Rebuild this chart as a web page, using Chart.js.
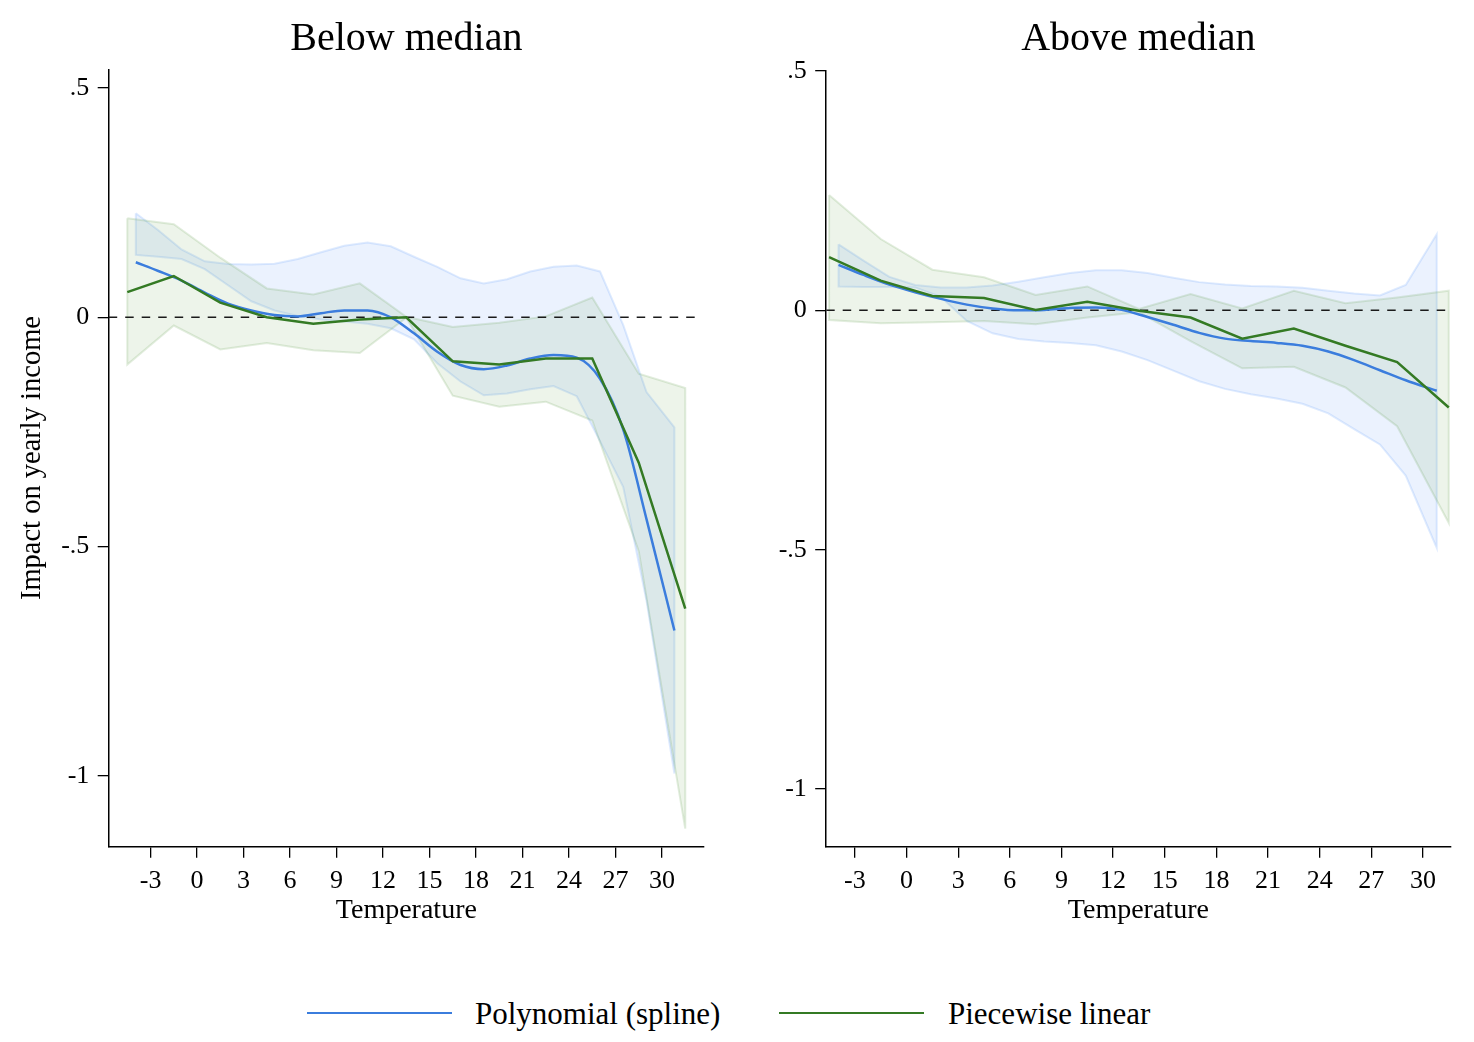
<!DOCTYPE html>
<html>
<head>
<meta charset="utf-8">
<script src="https://cdn.jsdelivr.net/npm/chart.js@4.4.0/dist/chart.umd.min.js"></script>
<style>
html,body{margin:0;padding:0;background:#fff;}
#wrap{position:relative;width:1474px;height:1042px;overflow:hidden;background:#fff;font-family:'Liberation Serif','Times New Roman',serif;color:#000;}
canvas{position:absolute;top:0;}
.lg-line{position:absolute;height:2.5px;}
.lg-text{position:absolute;font-size:31px;line-height:36px;white-space:nowrap;}
</style>
</head>
<body>
<div id="wrap">
  <canvas id="cL" width="737" height="960" style="left:0px"></canvas>
  <canvas id="cR" width="737" height="960" style="left:737px"></canvas>
  <div class="lg-line" style="left:307px;top:1011.5px;width:145px;background:#3b7ddd"></div>
  <div class="lg-text" style="left:475px;top:996px">Polynomial (spline)</div>
  <div class="lg-line" style="left:779px;top:1011.5px;width:145px;background:#347a24"></div>
  <div class="lg-text" style="left:948px;top:996px">Piecewise linear</div>
</div>
<script>
// ---------- data ----------
const xTickValues = [-3, 0, 3, 6, 9, 12, 15, 18, 21, 24, 27, 30];
const xTickLabels = ['-3','0','3','6','9','12','15','18','21','24','27','30'];
const yTickValues = [-1, -0.5, 0, 0.5];
const yTickLabels = ['-1', '-.5', '0', '.5'];

// piecewise linear (3-degree bins)
const greenBins = [-4.5, -1.5, 1.5, 4.5, 7.5, 10.5, 13.5, 16.5, 19.5, 22.5, 25.5, 28.5, 31.5];
// spline evaluation points
const splineGrid = [-3.95, -2.5, -1, 0.5, 2, 3.5, 5, 6.5, 8, 9.5, 11, 12.5, 14, 15.5, 17, 18.5, 20, 21.5, 23, 24.5, 26, 27.5, 29, 30.8];

// Below median
const belowSpline   = [0.120, 0.101, 0.080, 0.054, 0.030, 0.015, 0.005, 0.002, 0.009, 0.015, 0.015, 0.000, -0.035, -0.075, -0.104, -0.113, -0.105, -0.090, -0.082, -0.088, -0.134, -0.245, -0.440, -0.683];
const belowSplineHi = [0.227, 0.190, 0.148, 0.122, 0.116, 0.115, 0.117, 0.127, 0.142, 0.156, 0.163, 0.155, 0.132, 0.110, 0.085, 0.074, 0.083, 0.100, 0.110, 0.113, 0.100, -0.017, -0.163, -0.240];
const belowSplineLo = [0.136, 0.132, 0.127, 0.105, 0.070, 0.035, 0.015, 0.003, -0.005, -0.009, -0.014, -0.024, -0.048, -0.100, -0.140, -0.170, -0.166, -0.157, -0.150, -0.172, -0.270, -0.370, -0.618, -0.995];
const belowLinear   = [0.055, 0.090, 0.032, 0.000, -0.014, -0.005, 0.000, -0.096, -0.103, -0.090, -0.090, -0.317, -0.635];
const belowLinearHi = [0.216, 0.203, 0.130, 0.063, 0.050, 0.074, 0.001, -0.021, -0.012, 0.002, 0.043, -0.123, -0.154];
const belowLinearLo = [-0.103, -0.018, -0.070, -0.056, -0.072, -0.078, -0.001, -0.171, -0.195, -0.184, -0.225, -0.510, -1.115];

// Above median
const aboveSpline   = [0.095, 0.074, 0.054, 0.038, 0.024, 0.012, 0.004, 0.000, 0.001, 0.005, 0.006, 0.001, -0.014, -0.030, -0.047, -0.059, -0.064, -0.068, -0.074, -0.086, -0.104, -0.125, -0.146, -0.168];
const aboveSplineHi = [0.138, 0.104, 0.070, 0.053, 0.048, 0.048, 0.052, 0.060, 0.069, 0.078, 0.084, 0.084, 0.078, 0.068, 0.059, 0.054, 0.051, 0.050, 0.047, 0.041, 0.035, 0.031, 0.053, 0.159];
const aboveSplineLo = [0.050, 0.049, 0.049, 0.048, 0.028, -0.022, -0.048, -0.060, -0.065, -0.068, -0.073, -0.086, -0.104, -0.126, -0.148, -0.164, -0.175, -0.184, -0.195, -0.215, -0.248, -0.280, -0.345, -0.496];
const aboveLinear   = [0.111, 0.062, 0.030, 0.026, 0.001, 0.018, -0.001, -0.015, -0.059, -0.038, -0.074, -0.108, -0.203];
const aboveLinearHi = [0.241, 0.149, 0.085, 0.069, 0.032, 0.050, 0.003, 0.034, 0.004, 0.041, 0.015, 0.027, 0.041];
const aboveLinearLo = [-0.020, -0.027, -0.025, -0.022, -0.029, -0.015, -0.004, -0.064, -0.121, -0.118, -0.161, -0.242, -0.444];

// ---------- helpers ----------
const SERIF = "'Liberation Serif', 'Times New Roman', serif";
Chart.defaults.font.family = SERIF;
Chart.defaults.color = '#000';

function pts(xs, ys) { return xs.map((x, i) => ({x: x, y: ys[i]})); }
function band(xs, lo, hi) {
  const p = pts(xs, hi);
  for (let i = xs.length - 1; i >= 0; i--) p.push({x: xs[i], y: lo[i]});
  p.push({x: xs[0], y: hi[0]});
  return p;
}

function makeChart(id, c) {
  const datasets = [
    { data: band(splineGrid, c.sLo, c.sHi), fill: 'shape', backgroundColor: 'rgba(59,130,246,0.10)',
      borderColor: 'rgba(59,130,246,0.16)', borderWidth: 2, pointRadius: 0, tension: 0, order: 5 },
    { data: band(greenBins, c.gLo, c.gHi), fill: 'shape', backgroundColor: 'rgba(76,145,50,0.10)',
      borderColor: 'rgba(76,145,50,0.16)', borderWidth: 2, pointRadius: 0, tension: 0, order: 4 },
    { data: [{x: c.xMin, y: 0}, {x: c.zeroEnd, y: 0}], borderColor: '#1a1a1a', borderWidth: 1.5,
      borderDash: [8.5, 8], pointRadius: 0, fill: false, order: 3 },
    { data: pts(splineGrid, c.s), borderColor: '#3b7ddd', borderWidth: 2.5, pointRadius: 0,
      fill: false, cubicInterpolationMode: 'monotone', order: 2 },
    { data: pts(greenBins, c.g), borderColor: '#347a24', borderWidth: 2.5, pointRadius: 0,
      fill: false, tension: 0, order: 1 }
  ];
  return new Chart(document.getElementById(id), {
    type: 'line',
    data: { datasets: datasets },
    options: {
      responsive: false,
      animation: false,
      events: [],
      layout: { padding: c.pad },
      plugins: {
        legend: { display: false },
        tooltip: { enabled: false },
        title: { display: true, text: c.title, fullSize: false, color: '#000',
                 font: { size: 40, family: SERIF, weight: 'normal' },
                 padding: { top: 15.5, bottom: c.titleBottom } }
      },
      scales: {
        x: {
          type: 'linear', position: 'bottom', min: c.xMin, max: c.xMax,
          afterBuildTicks: s => { s.ticks = xTickValues.map(v => ({value: v})); },
          afterFit: s => { s.height = 81; },
          ticks: { autoSkip: false, maxRotation: 0, minRotation: 0, padding: 7.5, color: '#000',
                   font: { size: 26 }, callback: v => xTickLabels[xTickValues.indexOf(v)] },
          grid: { drawOnChartArea: false, drawTicks: true, tickLength: 11, color: '#000', lineWidth: 1.3 },
          border: { display: true, color: '#000', width: 1.5 },
          title: { display: true, text: 'Temperature', color: '#000', font: { size: 28 }, padding: { top: 0, bottom: 0 } }
        },
        y: {
          type: 'linear', position: 'left', min: c.yMin, max: c.yMax,
          afterBuildTicks: s => { s.ticks = yTickValues.map(v => ({value: v})); },
          afterFit: s => { s.width = c.yWidth; },
          ticks: { autoSkip: false, padding: 8.4, color: '#000', font: { size: 26 },
                   callback: v => yTickLabels[yTickValues.indexOf(v)] },
          grid: { drawOnChartArea: false, drawTicks: true, tickLength: 11, color: '#000', lineWidth: 1.3 },
          border: { display: true, color: '#000', width: 1.5 },
          title: { display: c.yTitle !== '', text: c.yTitle, color: '#000', font: { size: 28.5 },
                   padding: { top: 15, bottom: 0 } }
        }
      }
    }
  });
}

makeChart('cL', {
  title: 'Below median', yTitle: 'Impact on yearly income',
  xMin: -5.70, xMax: 32.71, zeroEnd: 32.6, yMin: -1.1544, yMax: 0.5406, yWidth: 108.7,
  pad: { left: 0, right: 33, top: 0, bottom: 32.3 }, titleBottom: 5.9,
  s: belowSpline, sHi: belowSplineHi, sLo: belowSplineLo,
  g: belowLinear, gHi: belowLinearHi, gLo: belowLinearLo
});
makeChart('cR', {
  title: 'Above median', yTitle: '',
  xMin: -4.667, xMax: 31.6, zeroEnd: 31.45, yMin: -1.1205, yMax: 0.5, yWidth: 89.2,
  pad: { left: 0, right: 23.5, top: 0, bottom: 32.2 }, titleBottom: 7.5,
  s: aboveSpline, sHi: aboveSplineHi, sLo: aboveSplineLo,
  g: aboveLinear, gHi: aboveLinearHi, gLo: aboveLinearLo
});
</script>
</body>
</html>
